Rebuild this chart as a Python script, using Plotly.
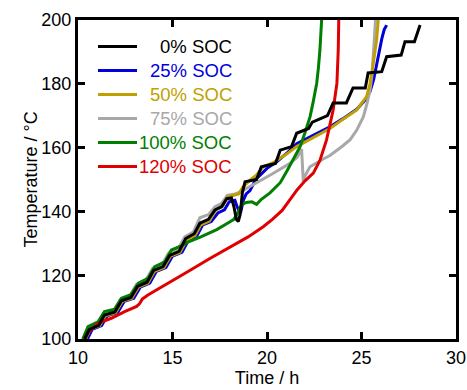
import plotly.graph_objects as go

# ---- data (time in h, temperature in degC) ----
t_0 = [10.35, 10.6, 11.1, 11.4, 11.95, 12.3, 12.8, 13.15, 13.65, 14.0, 14.5, 14.85, 15.35, 15.7, 16.15,
       16.45, 16.9, 17.25, 17.6, 17.87, 18.12, 18.25, 18.38, 18.48, 18.58, 18.7, 18.84, 19.45, 19.7, 20.45,
       20.7, 21.3, 21.57, 22.2, 22.4, 23.2, 23.5, 24.2, 24.55, 25.2, 25.35, 26.07, 26.33, 27.1, 27.3, 27.8, 28.1]
T_0 = [100, 103, 104.3, 107.5, 108.5, 112, 113, 116.5, 117.8, 121.5, 122.7, 126.2, 127.5, 131.5, 133,
       136.3, 137.5, 140.5, 141.5, 144, 144.2, 141.5, 137.5, 136.8, 139, 146, 149.3, 150, 154, 155,
       159.2, 160.3, 164.5, 166, 168, 170, 174, 174, 178.7, 178.7, 183.4, 183.8, 188.5, 189, 193.2, 193.2, 198.4]

t_25 = [10.5, 10.75, 11.25, 11.55, 12.1, 12.45, 12.95, 13.3, 13.8, 14.15, 14.65, 15.0, 15.5, 15.85, 16.3,
        16.6, 17.05, 17.4, 17.75, 18.0, 18.3, 18.45, 18.6, 18.75, 18.9, 19.1, 19.4, 20.0, 20.5, 21.0,
        21.57, 22.5, 23.33, 24.0, 24.75, 25.2, 25.45, 25.65, 25.8, 25.95, 26.07, 26.2, 26.33]
T_25 = [100, 103, 104.2, 107.3, 108.3, 111.8, 112.8, 116.3, 117.5, 121.2, 122.4, 126, 127.2, 131, 132.5,
        135.8, 136.8, 139.5, 140.5, 143, 143.5, 141, 139.5, 143.5, 145.5, 146.5, 150, 153.5, 155.5, 158,
        161.2, 164, 166.5, 169, 172, 175, 177.5, 181.5, 186, 191, 194, 197, 198.4]

t_50 = [10.4, 10.65, 11.15, 11.45, 12.0, 12.35, 12.85, 13.2, 13.7, 14.05, 14.55, 14.9, 15.4, 15.75, 16.2,
        16.5, 16.95, 17.3, 17.65, 17.9, 18.2, 18.5, 18.73, 19.1, 19.45, 19.8, 20.3, 21.0, 21.57, 22.5,
        23.33, 24.0, 24.75, 25.27, 25.45, 25.6, 25.72, 25.8, 25.9]
T_50 = [100, 103, 104.2, 107.3, 108.3, 111.8, 112.8, 116.3, 117.5, 121.2, 122.4, 126, 127.2, 131, 132.5,
        135.8, 137, 140.5, 141.5, 144.5, 145, 145.5, 147.7, 149.8, 151.4, 154, 155.2, 157.8, 160.3, 163.2,
        166, 168.8, 171.8, 176, 180, 185.4, 190, 193.7, 201]

t_75 = [10.3, 10.55, 11.05, 11.35, 11.9, 12.25, 12.75, 13.1, 13.6, 13.95, 14.45, 14.8, 15.3, 15.65, 16.1,
        16.45, 16.9, 17.25, 17.6, 17.9, 18.3, 18.57, 19.0, 19.8, 20.2, 21.2, 21.6, 21.83, 21.88, 21.92,
        22.0, 22.27, 23.0, 23.33, 24.0, 24.4, 24.75, 25.1, 25.3, 25.45, 25.55, 25.62, 25.7, 25.75]
T_75 = [100, 103.3, 104.7, 108, 109, 112.5, 113.6, 117.2, 118.5, 122.2, 123.4, 127, 128.3, 132, 133.5,
        138, 139, 141.5, 142.5, 145, 145.5, 146, 147.5, 150, 151.5, 155, 157, 159.5, 155, 149.5,
        151, 154, 156.5, 157.5, 160.5, 162.5, 165.5, 169.7, 174, 178, 182.5, 187.5, 195.9, 201]

t_100 = [10.25, 10.53, 11.06, 11.4, 11.94, 12.3, 12.8, 13.2, 13.7, 14.06, 14.6, 14.94, 15.4, 15.75, 16.5,
         17.34, 18.0, 18.25, 18.45, 18.65, 18.9, 19.2, 19.45, 19.7, 20.16, 20.7, 21.04, 21.4, 21.75, 22.0,
         22.28, 22.45, 22.63, 22.72, 22.8, 22.9]
T_100 = [100, 103.9, 105.4, 108.6, 109.3, 112.8, 113.9, 117.5, 119, 122.7, 124.2, 127.9, 129, 130.2, 132,
         134.3, 136.6, 137.5, 139.5, 142, 142.8, 143, 142.2, 143.8, 145.8, 149, 152.5, 156.3, 160.3, 164.5,
         169.7, 174.5, 180.2, 185, 190.6, 201]

t_120 = [10.35, 10.6, 11.06, 11.76, 12.47, 13.1, 13.25, 13.4, 13.7, 14.5, 15.3, 15.8, 17.0, 18.0, 19.0,
         19.8, 20.3, 20.8, 21.2, 21.6, 22.0, 22.45, 22.8, 23.15, 23.5, 23.7, 23.77, 23.8]
T_120 = [100, 102.5, 104.9, 106.5, 108.6, 110.2, 111, 112.5, 113.8, 116.5, 119.3, 121.1, 125.3, 128.7, 132,
         135.2, 137.6, 140.3, 143.6, 146.8, 149.5, 152, 156, 162.4, 171.8, 180.2, 190.6, 201]

labels = ["0% SOC", "25% SOC", "50% SOC", "75% SOC", "100% SOC", "120% SOC"]
colors = ["#000000", "#0000dd", "#c09f00", "#a8a8a8", "#007f00", "#e00000"]
series = [(t_0, T_0), (t_25, T_25), (t_50, T_50), (t_75, T_75), (t_100, T_100), (t_120, T_120)]

x_ticks = [10, 15, 20, 25, 30]
y_ticks = [100, 120, 140, 160, 180, 200]

FONT = "Liberation Sans, Arial, sans-serif"

fig = go.Figure()
draw_order = [1, 3, 2, 4, 5, 0]
for i in draw_order:
    t, T = series[i]
    fig.add_trace(go.Scatter(x=t, y=T, mode="lines", name=labels[i],
                             line=dict(color=colors[i], width=3), showlegend=False))

# manual legend (right-aligned coloured text, line samples)
row_y = [46.5, 70.5, 94.5, 118.5, 142.5, 166.5]  # pixel rows
W, H = 467, 390
L, R, Tp, B = 78, 11, 20, 51
pw, ph = W - L - R, H - Tp - B
def px2paper(x, y):
    return (x - L) / pw, (H - B - y) / ph
for i in range(6):
    x0, yy = px2paper(98, row_y[i])
    x1, _ = px2paper(137, row_y[i])
    fig.add_shape(type="line", xref="paper", yref="paper", x0=x0, x1=x1, y0=yy, y1=yy,
                  line=dict(color=colors[i], width=3))
    xt, _ = px2paper(234, row_y[i])
    fig.add_annotation(xref="paper", yref="paper", x=xt, y=yy, text=labels[i], showarrow=False,
                       xanchor="right", yanchor="middle", font=dict(family=FONT, size=18.5, color=colors[i]))

axis_common = dict(showline=True, linewidth=3, linecolor="black", mirror="allticks",
                   ticks="inside", ticklen=7, tickwidth=2.5, tickcolor="black",
                   showgrid=False, zeroline=False,
                   tickfont=dict(family=FONT, size=18, color="black"))
fig.update_xaxes(range=[10, 30], tickvals=x_ticks, ticktext=[str(v) for v in x_ticks],
                 title=dict(text="Time / h", font=dict(family=FONT, size=18, color="black"), standoff=0),
                 **axis_common)
fig.update_yaxes(range=[100, 200], tickvals=y_ticks, ticktext=[str(v) for v in y_ticks],
                 title=dict(text="Temperature / °C", font=dict(family=FONT, size=18, color="black"), standoff=0),
                 **axis_common)
fig.update_layout(width=W, height=H, margin=dict(l=L, r=R, t=Tp, b=B, autoexpand=False),
                  plot_bgcolor="white", paper_bgcolor="white", showlegend=False)
fig.write_html("out.html", config={"displayModeBar": False},
               post_script="document.body.style.margin='0';document.body.style.padding='0';")
